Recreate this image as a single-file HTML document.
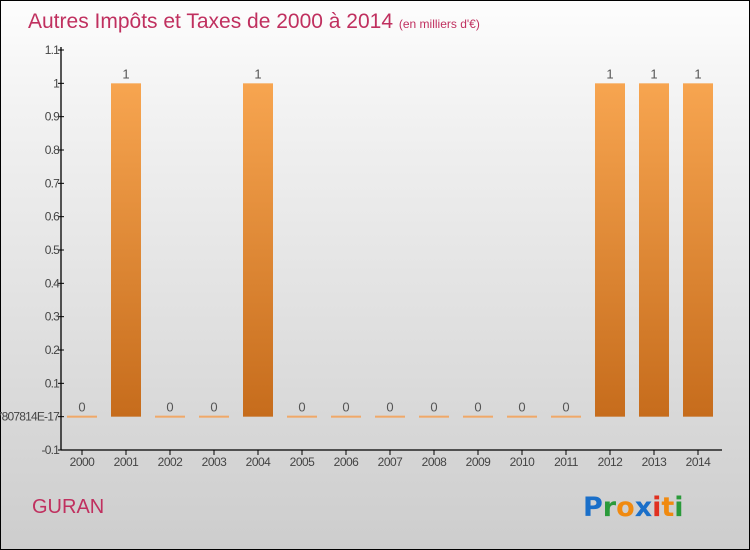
<!DOCTYPE html>
<html><head><meta charset="utf-8"><style>
html,body{margin:0;padding:0}
body{width:750px;height:550px;overflow:hidden;font-family:"Liberation Sans",sans-serif}
#wrap{position:absolute;left:0;top:0;width:748px;height:548px;border:1px solid #000;background:linear-gradient(#fdfdfd,#f2f2f2 20%,#cdcdcd)}
</style></head><body>
<div id="wrap">
<svg id="chart" width="750" height="550" style="position:absolute;left:-1px;top:-1px">
<defs><linearGradient id="bg" x1="0" y1="0" x2="0" y2="1"><stop offset="0" stop-color="#f7a550"/><stop offset="1" stop-color="#c66c1c"/></linearGradient></defs>
<text x="28" y="28" font-size="21" fill="#c0305f">Autres Impôts et Taxes de 2000 à 2014 <tspan font-size="12">(en milliers d'€)</tspan></text>
<text x="32" y="513" font-size="20" fill="#c0305f">GURAN</text>
<g font-size="27" font-weight="bold" font-family="'DejaVu Sans',sans-serif">
<text x="583" y="516"><tspan fill="#1a6fc9">P</tspan><tspan fill="#2a9a3a">r</tspan><tspan fill="#f08a10">o</tspan><tspan fill="#1a6fc9">x</tspan><tspan fill="#e03020">i</tspan><tspan fill="#f08a10">t</tspan><tspan fill="#2a9a3a">i</tspan></text></g>
<g id="axes"></g><g id="bars"></g>
</svg></div>
<script>
const categories=["2000","2001","2002","2003","2004","2005","2006","2007","2008","2009","2010","2011","2012","2013","2014"];
const values=[0,1,0,0,1,0,0,0,0,0,0,0,1,1,1];
const valueLabels=["0","1","0","0","1","0","0","0","0","0","0","0","1","1","1"];
const yTicks=[-0.1,0,0.1,0.2,0.3,0.4,0.5,0.6,0.7,0.8,0.9,1,1.1];
const yTickLabels=["-0.1","-1.3877787807814E-17","0.1","0.2","0.3","0.4","0.5","0.6","0.7","0.8","0.9","1","1.1"];
const NS="http://www.w3.org/2000/svg";
const yMin=-0.1,yMax=1.1,plotTop=50,plotBot=450,x0=61,xStep=44,xFirst=82,bw=30;
const y=v=>plotBot-(v-yMin)/(yMax-yMin)*(plotBot-plotTop);
const x=i=>xFirst+i*xStep;
function mk(t,a,p){const e=document.createElementNS(NS,t);for(const k in a)e.setAttribute(k,a[k]);p.appendChild(e);return e;}
const ax=document.getElementById('axes'),bars=document.getElementById('bars');
let l=mk('line',{x1:x0,y1:plotTop-3,x2:x0,y2:plotBot,stroke:'#000','stroke-width':1.3},ax);


l=mk('line',{x1:x0,y1:plotBot,x2:722,y2:plotBot,stroke:'#000','stroke-width':1.3},ax);


yTicks.forEach((v,i)=>{
 mk('line',{x1:x0-3,y1:y(v),x2:x0+3,y2:y(v),stroke:'#000'},ax);
 const t=mk('text',{x:x0-2,y:y(v)+4,'text-anchor':'end','font-size':12,fill:'#444','letter-spacing':'-0.8'},ax);
 t.textContent=yTickLabels[i];
 
 
});
categories.forEach((c,i)=>{
 mk('line',{x1:x(i),y1:plotBot,x2:x(i),y2:plotBot+5,stroke:'#000'},ax);
 const t=mk('text',{x:x(i),y:plotBot+16,'text-anchor':'middle','font-size':12,fill:'#444','letter-spacing':'-0.5'},ax);
 t.textContent=c;
 
 
 const v=values[i];
 const h=Math.max(2,y(0)-y(v));
 const r=mk('rect',{x:x(i)-bw/2,y:v>0?y(v):y(0)-1,width:bw,height:h,fill:v>0?'url(#bg)':'#f0a868'},bars);
 
 
 const vl=mk('text',{x:x(i),y:y(v)-5,'text-anchor':'middle','font-size':13,fill:'#555'},bars);
 vl.textContent=valueLabels[i];
 
 
});
</script>
</body></html>
